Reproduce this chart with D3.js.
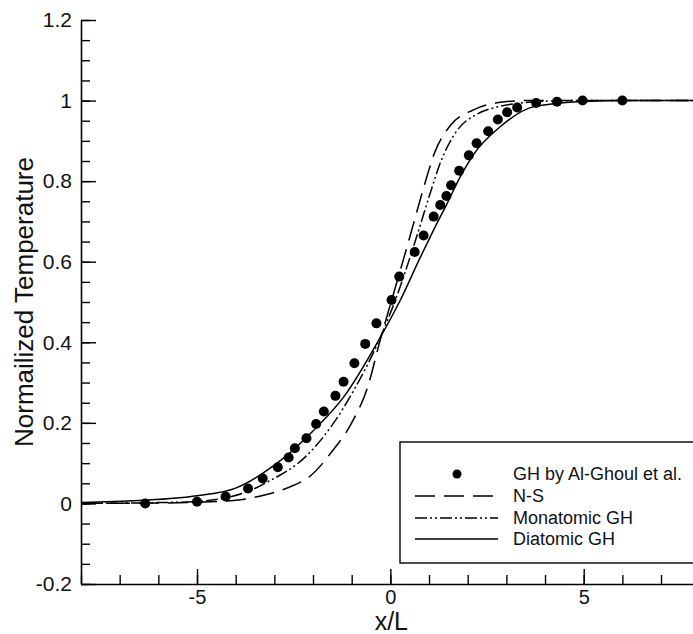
<!DOCTYPE html>
<html>
<head>
<meta charset="utf-8">
<script src="https://cdn.jsdelivr.net/npm/d3@7"></script>
<style>
  body { margin: 0; background: #fff; }
  svg { display: block; font-family: "Liberation Sans", Arial, sans-serif; }
</style>
</head>
<body>
<div id="chart"></div>
<script>
(function() {

    // GH by Al-Ghoul et al. (symbols)
    var dotX = [-6.34, -5.0, -4.26, -3.68, -3.30, -2.91, -2.63, -2.47, -2.17, -1.92, -1.72, -1.42,
                -1.21, -0.93, -0.65, -0.36, 0.03, 0.23, 0.63, 0.86, 1.12, 1.29, 1.45, 1.57,
                1.78, 2.03, 2.23, 2.53, 2.78, 3.02, 3.28, 3.77, 4.31, 4.97, 6.0];
    var dotY = [0.0, 0.004, 0.017, 0.037, 0.062, 0.090, 0.114, 0.137, 0.162, 0.197, 0.228, 0.267,
                0.302, 0.348, 0.396, 0.447, 0.505, 0.563, 0.624, 0.665, 0.712, 0.741, 0.763, 0.790,
                0.826, 0.864, 0.894, 0.924, 0.953, 0.971, 0.983, 0.994, 0.997, 1.0, 1.0];

    // N-S
    var nsX = [-8, -6, -5, -4, -3.2, -2.5, -2.1, -1.5, -1.0, -0.6, -0.25, 0.05, 0.5, 0.85, 1.15,
               1.55, 2.15, 2.8, 3.5, 5, 8];
    var nsY = [0, 0.001, 0.003, 0.008, 0.022, 0.045, 0.066, 0.13, 0.2, 0.285, 0.41, 0.51, 0.66, 0.78, 0.872,
               0.938, 0.977, 0.995, 1, 1, 1];

    // Monatomic GH
    var monoX = [-8, -6, -5, -4.25, -3.7, -3.2, -2.15, -1.5, -0.95, -0.25, 0.13, 0.69, 1.03, 1.29,
                 1.72, 2.24, 2.8, 3.3, 4.2, 5, 8];
    var monoY = [0, 0.002, 0.005, 0.014, 0.029, 0.052, 0.12, 0.195, 0.28, 0.414, 0.505, 0.665, 0.77, 0.845,
                 0.925, 0.966, 0.985, 0.993, 0.999, 1, 1];

    // Diatomic GH
    var diaX = [-8, -6.5, -5, -4, -3, -2, -1.2, -0.25, 0.26, 0.78, 1.12, 1.47, 1.81, 2.15, 2.84,
                3.71, 5, 6, 8];
    var diaY = [0.002, 0.007, 0.019, 0.038, 0.095, 0.18, 0.265, 0.414, 0.505, 0.612, 0.679, 0.745, 0.811, 0.866, 0.935,
                0.985, 0.998, 1, 1];

    var xTicks = [-5, 0, 5];
    var xTickLabels = ["-5", "0", "5"];
    var yTicks = [-0.2, 0, 0.2, 0.4, 0.6, 0.8, 1, 1.2];
    var yTickLabels = ["-0.2", "0", "0.2", "0.4", "0.6", "0.8", "1", "1.2"];

    var legendNames = ["GH by Al-Ghoul et al.", "N-S", "Monatomic GH", "Diatomic GH"];

    var width = 693;
    var height = 634;

    var x = d3.scaleLinear().domain([-8, 8]).range([81, 699.7]);
    var y = d3.scaleLinear().domain([-0.2, 1.2]).range([584, 20]);

    var svg = d3.select("#chart").append("svg")
        .attr("width", width)
        .attr("height", height);

    // minor ticks
    svg.append("g")
        .attr("transform", "translate(81,0)")
        .call(d3.axisLeft(y).tickValues(d3.range(-0.2, 1.2001, 0.05)).tickSize(-9).tickSizeOuter(0).tickFormat(""))
        .call(function(g) { g.select(".domain").remove(); });

    svg.append("g")
        .attr("transform", "translate(0,584)")
        .call(d3.axisBottom(x).tickValues(d3.range(-8, 8.001, 1)).tickSize(-9).tickSizeOuter(0).tickFormat(""))
        .call(function(g) { g.select(".domain").remove(); });

    // major ticks with labels
    var yAxis = svg.append("g")
        .attr("transform", "translate(81,0)")
        .call(d3.axisLeft(y).tickValues(yTicks).tickSize(-15).tickSizeOuter(0).tickPadding(9)
            .tickFormat(function(d, i) { return yTickLabels[i]; }));

    var xAxis = svg.append("g")
        .attr("transform", "translate(0,584)")
        .call(d3.axisBottom(x).tickValues(xTicks).tickSize(-15).tickSizeOuter(0).tickPadding(6)
            .tickFormat(function(d, i) { return xTickLabels[i]; }));

    svg.selectAll(".tick line").attr("stroke", "#000").attr("stroke-width", 1.4);
    svg.selectAll(".domain").attr("stroke", "#000").attr("stroke-width", 1.6);
    yAxis.selectAll("text").attr("font-size", 21).attr("font-family", "Liberation Sans, Arial, sans-serif").attr("fill", "#111");
    xAxis.selectAll("text").attr("font-size", 20).attr("font-family", "Liberation Sans, Arial, sans-serif").attr("fill", "#111")
        .attr("dy", "0.7em");

    // axis titles
    svg.append("text")
        .attr("x", x(0) + 1)
        .attr("y", 630)
        .attr("text-anchor", "middle")
        .attr("font-size", 25)
        .attr("fill", "#111")
        .text("x/L");

    svg.append("text")
        .attr("transform", "translate(33," + y(0.5) + ") rotate(-90)")
        .attr("text-anchor", "middle")
        .attr("font-size", 26)
        .attr("fill", "#111")
        .text("Normailized Temperature");

    // curves
    var line = d3.line()
        .x(function(d) { return x(d[0]); })
        .y(function(d) { return y(d[1]); })
        .curve(d3.curveMonotoneX);

    var series = [
        { xs: diaX, ys: diaY, dash: null },
        { xs: monoX, ys: monoY, dash: "12,3,2,3,2,3" },
        { xs: nsX, ys: nsY, dash: "20,9" }
    ];

    svg.selectAll(".curve")
        .data(series)
        .enter()
        .append("path")
        .attr("class", "curve")
        .attr("d", function(s) { return line(d3.zip(s.xs, s.ys)); })
        .attr("fill", "none")
        .attr("stroke", "#000")
        .attr("stroke-width", 1.5)
        .attr("stroke-dasharray", function(s) { return s.dash; });

    svg.selectAll(".dot")
        .data(d3.zip(dotX, dotY))
        .enter()
        .append("circle")
        .attr("class", "dot")
        .attr("cx", function(d) { return x(d[0]); })
        .attr("cy", function(d) { return y(d[1]); })
        .attr("r", 5)
        .style("fill", "#000");

    // legend
    var legend = svg.append("g");

    legend.append("rect")
        .attr("x", 400)
        .attr("y", 442)
        .attr("width", 310)
        .attr("height", 121)
        .style("fill", "#fff")
        .style("stroke", "#000")
        .style("stroke-width", 1.4);

    var rowY = [474, 496, 518, 539];

    legend.append("circle")
        .attr("cx", 457)
        .attr("cy", rowY[0])
        .attr("r", 4.5)
        .style("fill", "#000");

    var legendDash = ["20,9", "12,3,2,3,2,3", null];
    legendDash.forEach(function(dash, i) {
        legend.append("line")
            .attr("x1", 415)
            .attr("x2", 498)
            .attr("y1", rowY[i + 1])
            .attr("y2", rowY[i + 1])
            .attr("stroke", "#000")
            .attr("stroke-width", 1.4)
            .attr("stroke-dasharray", dash);
    });

    legend.selectAll(".lbl")
        .data(legendNames)
        .enter()
        .append("text")
        .attr("class", "lbl")
        .attr("x", 513)
        .attr("y", function(d, i) { return rowY[i]; })
        .attr("dy", "0.35em")
        .attr("font-size", 18)
        .attr("fill", "#111")
        .text(function(d) { return d; });

})();
</script>
</body>
</html>
